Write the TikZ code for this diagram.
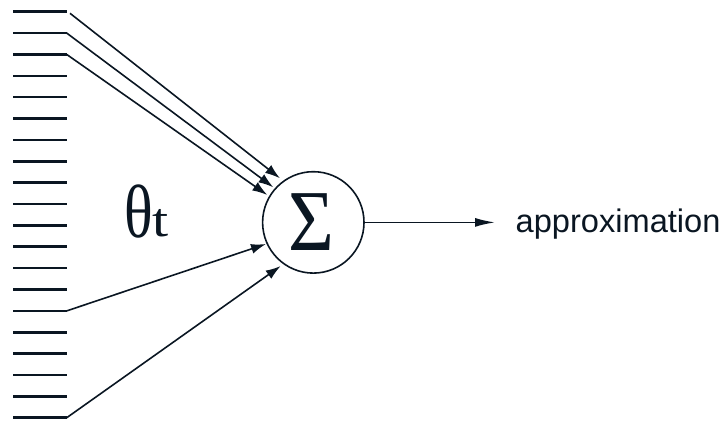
\documentclass[tikz,border=0pt]{standalone}
\usepackage{fontspec}
\setmainfont{Liberation Serif}
\newfontfamily\sansf{Liberation Sans}
\usetikzlibrary{arrows.meta}
\definecolor{ink}{RGB}{10,22,34}
\begin{document}
\begin{tikzpicture}[x=1pt,y=-1pt,
  stackline/.style={draw=ink,line width=2.6pt},
  conn/.style={draw=ink,line width=1.6pt,-{Latex[length=15pt,width=10pt]}},
  outconn/.style={draw=ink,line width=1.6pt,-{Latex[length=20pt,width=9pt]}},
  sumcircle/.style={circle,draw=ink,line width=1.6pt,minimum size=101.4pt,inner sep=0pt},
  lbl/.style={inner sep=0pt,anchor=base west,text=ink}]
\useasboundingbox (0,0) rectangle (727,420);
\foreach \i in {1,...,20} {
  \coordinate (a\i) at (13.3,{11.7+(\i-1)*21.37});
  \coordinate (b\i) at (66.7,{11.7+(\i-1)*21.37});
  \draw[stackline] (a\i) -- (b\i);
}
\node[sumcircle] (sum) at (313.3,222.4) {};
\node[lbl] (sigma) at (288.5,250) {\scalebox{1.27}[1.4]{\fontsize{62}{62}\selectfont Σ}};
\node[lbl] (theta) at (124.5,237) {\scalebox{1.15}[1.45]{\fontsize{52}{52}\selectfont θ}};
\node[lbl] (tsub) at (152.5,236.7) {\scalebox{1.45}[1.2]{\fontsize{40}{40}\selectfont t}};
\node[lbl] (approx) at (515.5,232.5) {\fontsize{32.6}{32.6}\sansf approximation};
\coordinate (s1) at (70,13.3);
\coordinate (t1) at (280,178.3);
\coordinate (t2) at (273.3,187.3);
\coordinate (t3) at (267.3,195);
\coordinate (t4) at (266,244);
\coordinate (t5) at (280.7,266);
\coordinate (out) at (495,222.4);
\draw[conn] (s1) -- (t1);
\draw[conn] (b2) -- (t2);
\draw[conn] (b3) -- (t3);
\draw[conn] (b15) -- (t4);
\draw[conn] (b20) -- (t5);
\draw[outconn] (sum.east) -- (out);
\end{tikzpicture}
\end{document}
